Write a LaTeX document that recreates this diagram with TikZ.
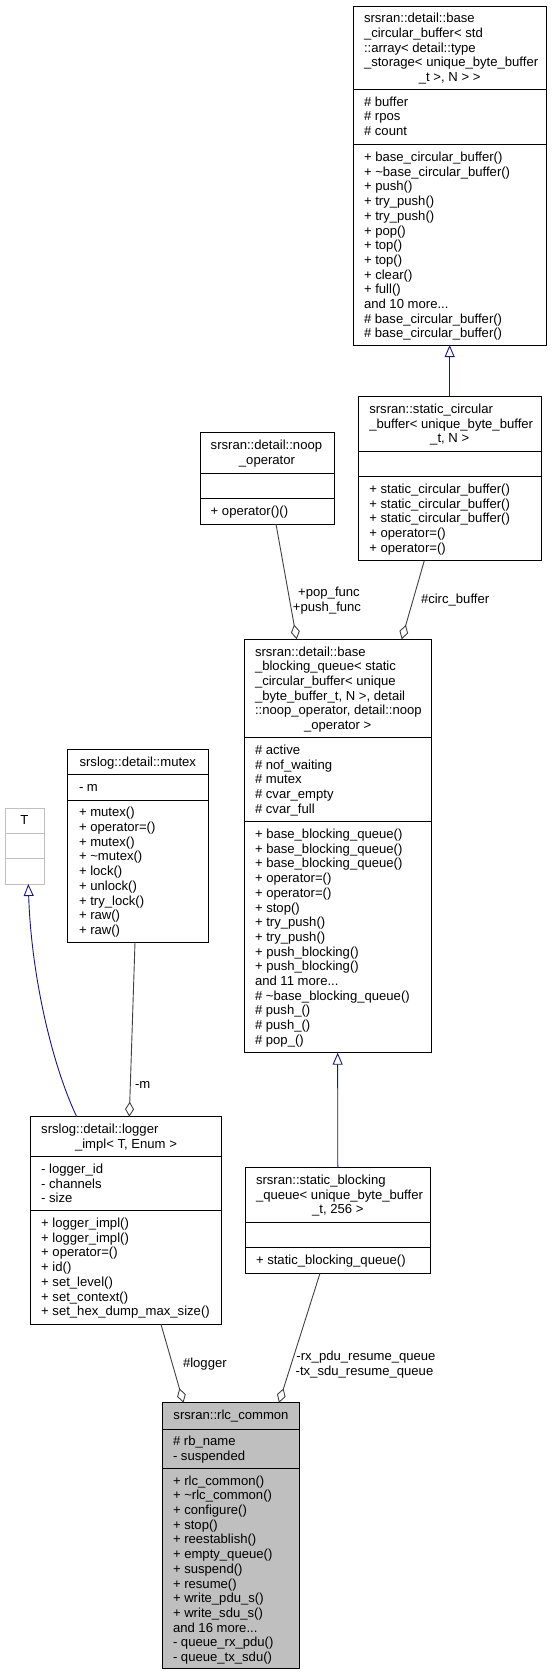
\documentclass[tikz,border=0pt]{standalone}
\usepackage{fontspec}
\setmainfont{Liberation Sans}
\usetikzlibrary{arrows.meta}
\definecolor{inhblue}{RGB}{25,25,112}
\definecolor{aggray}{RGB}{64,64,64}
\definecolor{lgray}{RGB}{191,191,191}
\tikzset{
  txt/.style={font=\fontsize{13.1}{14.7}\selectfont, inner sep=0pt, outer sep=0pt},
  umlbox/.style={draw=black, line width=1pt, fill=white, anchor=north west, inner sep=0pt, outer sep=0pt},
  boxline/.style={draw=black, line width=1pt},
  inh/.style={draw=inhblue, line width=0.9pt, -{Triangle[open, length=12pt, width=10pt]}},
  agg/.style={draw=aggray, line width=0.9pt, -{Diamond[open, length=15pt, width=9pt]}},
}
\newcommand\ddd{...}
\newcommand\sepat[2]{\draw[boxline] ([yshift=-#2pt]#1.north west) -- ([yshift=-#2pt]#1.north east);}
\newcommand\tlines[4]{\foreach \tl [count=\k] in {#4} {\node[txt,anchor=base west] (#1\k) at (#2,{#3+(\k-1)*14.7}) {\tl};}}
\begin{document}
\begin{tikzpicture}[x=1pt,y=-1pt]
\useasboundingbox (0,0) rectangle (552,1676);

% A: base_circular_buffer
\node[umlbox, minimum width=192.7pt, minimum height=339pt] (A) at (353.3,6) {};
\sepat{A}{83.3}\sepat{A}{138.7}
\tlines{At}{364}{22.8}{srsran::detail::base, {\_circular\_buffer< std}, {::array< detail::type}, {\_storage< unique\_byte\_buffer}}
\node[txt, anchor=base] (At5) at (449.7,81.6) {\_t >, N > >};
\tlines{Aa}{364}{106.2}{\# buffer, \# rpos, \# count}
\tlines{Am}{364}{161.5}{+ base\_circular\_buffer(), + \textasciitilde base\_circular\_buffer(), + push(), + try\_push(), + try\_push(), + pop(), + top(), + top(), + clear(), + full(), and 10 more\ddd, \# base\_circular\_buffer(), \# base\_circular\_buffer()}

% B: static_circular_buffer
\node[umlbox, minimum width=182.7pt, minimum height=164pt] (B) at (358.3,396.7) {};
\sepat{B}{54.3}\sepat{B}{80}
\tlines{Bt}{369.3}{413.5}{srsran::static\_circular, {\_buffer< unique\_byte\_buffer}}
\node[txt, anchor=base] (Bt3) at (449.7,442.9) {\_t, N >};
\tlines{Bm}{369.3}{493.5}{+ static\_circular\_buffer(), + static\_circular\_buffer(), + static\_circular\_buffer(), + operator=(), + operator=()}

% C: noop_operator
\node[umlbox, minimum width=134pt, minimum height=91.3pt] (C) at (200,432.7) {};
\sepat{C}{40.6}\sepat{C}{65.6}
\node[txt, anchor=base west] (Ct1) at (210.7,449.5) {srsran::detail::noop};
\node[txt, anchor=base] (Ct2) at (267,464.2) {\_operator};
\node[txt, anchor=base west] (Cm1) at (210.7,515.1) {+ operator()()};

% D: base_blocking_queue
\node[umlbox, minimum width=186.7pt, minimum height=413.4pt] (D) at (244.3,639.3) {};
\sepat{D}{98.4}\sepat{D}{182.4}
\tlines{Dt}{255}{656}{srsran::detail::base, {\_blocking\_queue< static}, {\_circular\_buffer< unique}, {\_byte\_buffer\_t, N >, detail}, {::noop\_operator, detail::noop}}
\node[txt, anchor=base] (Dt6) at (337.7,729.5) {\_operator >};
\tlines{Da}{255}{754.5}{\# active, \# nof\_waiting, \# mutex, \# cvar\_empty, \# cvar\_full}
\tlines{Dm}{255}{838.5}{+ base\_blocking\_queue(), + base\_blocking\_queue(), + base\_blocking\_queue(), + operator=(), + operator=(), + stop(), + try\_push(), + try\_push(), + push\_blocking(), + push\_blocking(), and 11 more\ddd, \# \textasciitilde base\_blocking\_queue(), \# push\_(), \# push\_(), \# pop\_()}

% E: T
\node[umlbox, draw=lgray, minimum width=39pt, minimum height=76pt] (T) at (5,808) {};
\draw[draw=lgray, line width=1pt] ([yshift=-25.3pt]T.north west) -- ([yshift=-25.3pt]T.north east);
\draw[draw=lgray, line width=1pt] ([yshift=-50.7pt]T.north west) -- ([yshift=-50.7pt]T.north east);
\node[txt, anchor=base] (Tt) at (24.5,824.8) {T};

% F: mutex
\node[umlbox, minimum width=140.3pt, minimum height=193pt] (F) at (67.7,749.3) {};
\sepat{F}{25}\sepat{F}{50.7}
\node[txt, anchor=base] (Ft) at (137.8,766.1) {srslog::detail::mutex};
\node[txt, anchor=base west] (Fa) at (79,791.1) {- m};
\tlines{Fm}{79}{816.8}{+ mutex(), + operator=(), + mutex(), + \textasciitilde mutex(), + lock(), + unlock(), + try\_lock(), + raw(), + raw()}

% G: logger_impl
\node[umlbox, minimum width=190.9pt, minimum height=207.6pt] (G) at (30.6,1116.7) {};
\sepat{G}{40}\sepat{G}{94}
\node[txt, anchor=base west] (Gt1) at (41.2,1133.5) {srslog::detail::logger};
\node[txt, anchor=base] (Gt2) at (126,1148.2) {\_impl< T, Enum >};
\tlines{Ga}{41.2}{1173.5}{- logger\_id, - channels, - size}
\tlines{Gm}{41.2}{1227.5}{+ logger\_impl(), + logger\_impl(), + operator=(), + id(), + set\_level(), + set\_context(), + set\_hex\_dump\_max\_size()}

% H: static_blocking_queue
\node[umlbox, minimum width=185.6pt, minimum height=105.6pt] (H) at (245,1167.7) {};
\sepat{H}{55}\sepat{H}{80}
\tlines{Ht}{256}{1184.5}{srsran::static\_blocking, {\_queue< unique\_byte\_buffer}}
\node[txt, anchor=base] (Ht3) at (337.8,1213.9) {\_t, 256 >};
\node[txt, anchor=base west] (Hm1) at (256,1264.5) {+ static\_blocking\_queue()};

% I: rlc_common
\node[umlbox, fill=lgray, minimum width=137.4pt, minimum height=265.9pt] (I) at (162.3,1402.7) {};
\sepat{I}{26.3}\sepat{I}{65.6}
\node[txt, anchor=base] (It) at (231,1419.5) {srsran::rlc\_common};
\tlines{Ia}{173}{1445.8}{\# rb\_name, - suspended}
\tlines{Im}{173}{1485.1}{+ rlc\_common(), + \textasciitilde rlc\_common(), + configure(), + stop(), + reestablish(), + empty\_queue(), + suspend(), + resume(), + write\_pdu\_s(), + write\_sdu\_s(), and 16 more\ddd, - queue\_rx\_pdu(), - queue\_tx\_sdu()}

% inheritance edges
\draw[inh] (B.north) -- (A.south);
\draw[inh] (H.north) -- (D.south);
\draw[inh] ([xshift=46.1pt]G.north west) .. controls (50,1060) and (31,970) .. ([xshift=23.3pt]T.south west);

% aggregation edges
\draw[agg] ([xshift=76pt]C.south west) -- ([xshift=52.4pt]D.north west);
\draw[agg] ([xshift=66pt]B.south west) -- ([xshift=157.4pt]D.north west);
\draw[agg] ([xshift=67.3pt]F.south west) -- ([xshift=98.7pt]G.north west);
\draw[agg] ([xshift=130.4pt]G.south west) -- ([xshift=21.2pt]I.north west);
\draw[agg] ([xshift=75pt]H.south west) -- ([xshift=116.7pt]I.north west);

% edge labels
\node[txt, anchor=base] (lpop) at (329,596.2) {+pop\_func};
\node[txt, anchor=base] (lpush) at (327,611) {+push\_func};
\node[txt, anchor=base west] (lcirc) at (421,603.5) {\#circ\_buffer};
\node[txt, anchor=base west] (lm) at (135,1088.5) {-m};
\node[txt, anchor=base west] (llog) at (183,1367.2) {\#logger};
\node[txt, anchor=base] (lrx) at (366,1360.2) {-rx\_pdu\_resume\_queue};
\node[txt, anchor=base] (ltx) at (364.5,1375.2) {-tx\_sdu\_resume\_queue};
\end{tikzpicture}
\end{document}
